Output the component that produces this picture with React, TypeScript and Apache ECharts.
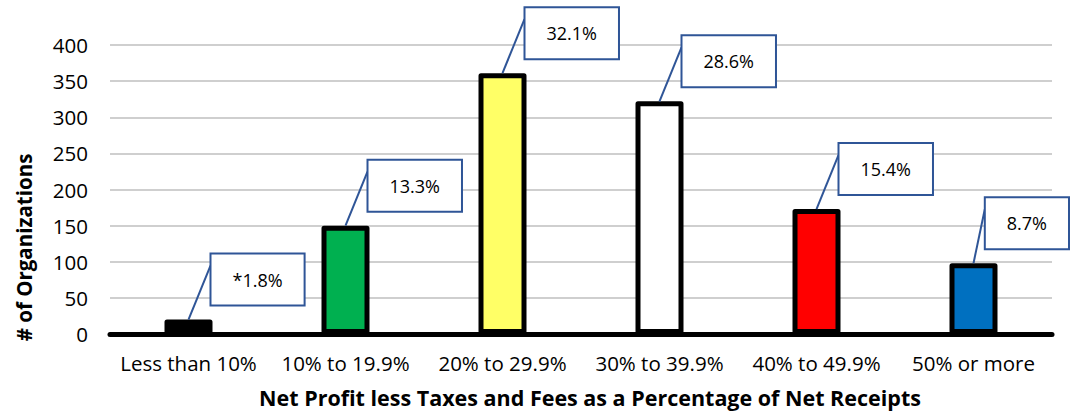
import React, { useEffect, useRef } from "react";
import * as echarts from "echarts";

const categories = [
  "Less than 10%",
  "10% to 19.9%",
  "20% to 29.9%",
  "30% to 39.9%",
  "40% to 49.9%",
  "50% or more",
];
const counts = [20, 150, 361, 322, 173, 98];
const percentLabels = ["*1.8%", "13.3%", "32.1%", "28.6%", "15.4%", "8.7%"];
const barColors = ["#000000", "#00B050", "#FFFF66", "#FFFFFF", "#FF0000", "#0070C0"];
const yMin = 0;
const yMax = 400;
const yInterval = 50;
const xTitle = "Net Profit less Taxes and Fees as a Percentage of Net Receipts";
const yTitle = "# of Organizations";

const FONT = '"Open Sans", "Noto Sans", sans-serif';
const BOX_BLUE = "#2F5597";

let measureCtx: CanvasRenderingContext2D | null = null;
function measure(text: string, font: string): number {
  if (!measureCtx) {
    const c = document.createElement("canvas");
    measureCtx = c.getContext("2d");
  }
  if (!measureCtx) return text.length * 10;
  measureCtx.font = font;
  return measureCtx.measureText(text).width;
}

export default function App() {
  const ref = useRef<HTMLDivElement>(null);

  useEffect(() => {
    document.body.style.margin = "0";
    if (!ref.current) return;
    const chart = echarts.init(ref.current, undefined, { renderer: "svg" });

    const option: any = {
      animation: false,
      backgroundColor: "#ffffff",
      grid: { left: 110, right: 18, top: 45, bottom: 78 },
      xAxis: {
        type: "category",
        data: categories,
        axisTick: { show: false },
        axisLine: { lineStyle: { color: "#000000", width: 5 } },
        axisLabel: {
          interval: 0,
          margin: 18,
          color: "#000000",
          fontSize: 20.5,
          fontFamily: FONT,
        },
      },
      yAxis: {
        type: "value",
        min: yMin,
        max: yMax,
        interval: yInterval,
        axisLine: { show: false },
        axisTick: { show: false },
        axisLabel: {
          margin: 22,
          color: "#000000",
          fontSize: 20.5,
          fontFamily: FONT,
        },
        splitLine: { lineStyle: { color: "#BFBFBF", width: 1.5 } },
      },
      series: [
        {
          type: "bar",
          barWidth: 48,
          z: 3,
          data: counts.map((v, i) => ({
            value: v,
            itemStyle: {
              color: barColors[i],
              borderColor: "#000000",
              borderWidth: 5,
              borderJoin: "round",
            },
          })),
        },
        {
          type: "custom",
          z: 5,
          clip: false,
          data: counts.map((v, i) => [i, v]),
          encode: { x: 0, y: 1 },
          renderItem: (params: any, api: any) => {
            const idx = api.value(0);
            const val = api.value(1);
            const pt = api.coord([idx, val]);
            const x = pt[0];
            const y = pt[1];
            const text = percentLabels[idx];
            const tw = measure(text, `18px ${FONT}`);
            const w = tw + 44;
            const h = 52;
            const W = api.getWidth();
            let left = x + 22;
            if (left + w > W - 1) left = W - 1 - w;
            const top = y - 66;
            return {
              type: "group",
              children: [
                {
                  type: "line",
                  shape: { x1: x, y1: y, x2: left, y2: top + 12 },
                  style: { stroke: BOX_BLUE, lineWidth: 2 },
                },
                {
                  type: "rect",
                  shape: { x: left, y: top, width: w, height: h },
                  style: { fill: "#ffffff", stroke: BOX_BLUE, lineWidth: 2 },
                },
                {
                  type: "text",
                  x: left + w / 2,
                  y: top + h / 2,
                  style: {
                    text,
                    fill: "#000000",
                    fontSize: 18,
                    fontFamily: FONT,
                    align: "center",
                    verticalAlign: "middle",
                    textAlign: "center",
                    textVerticalAlign: "middle",
                  },
                },
              ],
            };
          },
        },
      ],
      graphic: [
        {
          type: "text",
          x: 590,
          y: 397,
          style: {
            text: xTitle,
            fill: "#000000",
            fontSize: 21.5,
            fontWeight: "bold",
            fontFamily: FONT,
            align: "center",
            verticalAlign: "middle",
            textAlign: "center",
            textVerticalAlign: "middle",
          },
        },
        {
          type: "text",
          x: 24,
          y: 247.5,
          rotation: Math.PI / 2,
          style: {
            text: yTitle,
            fill: "#000000",
            fontSize: 20.5,
            fontWeight: "bold",
            fontFamily: FONT,
            align: "center",
            verticalAlign: "middle",
            textAlign: "center",
            textVerticalAlign: "middle",
          },
        },
      ],
    };

    chart.setOption(option);
    return () => {
      chart.dispose();
    };
  }, []);

  return <div ref={ref} style={{ width: 1070, height: 412 }} />;
}
